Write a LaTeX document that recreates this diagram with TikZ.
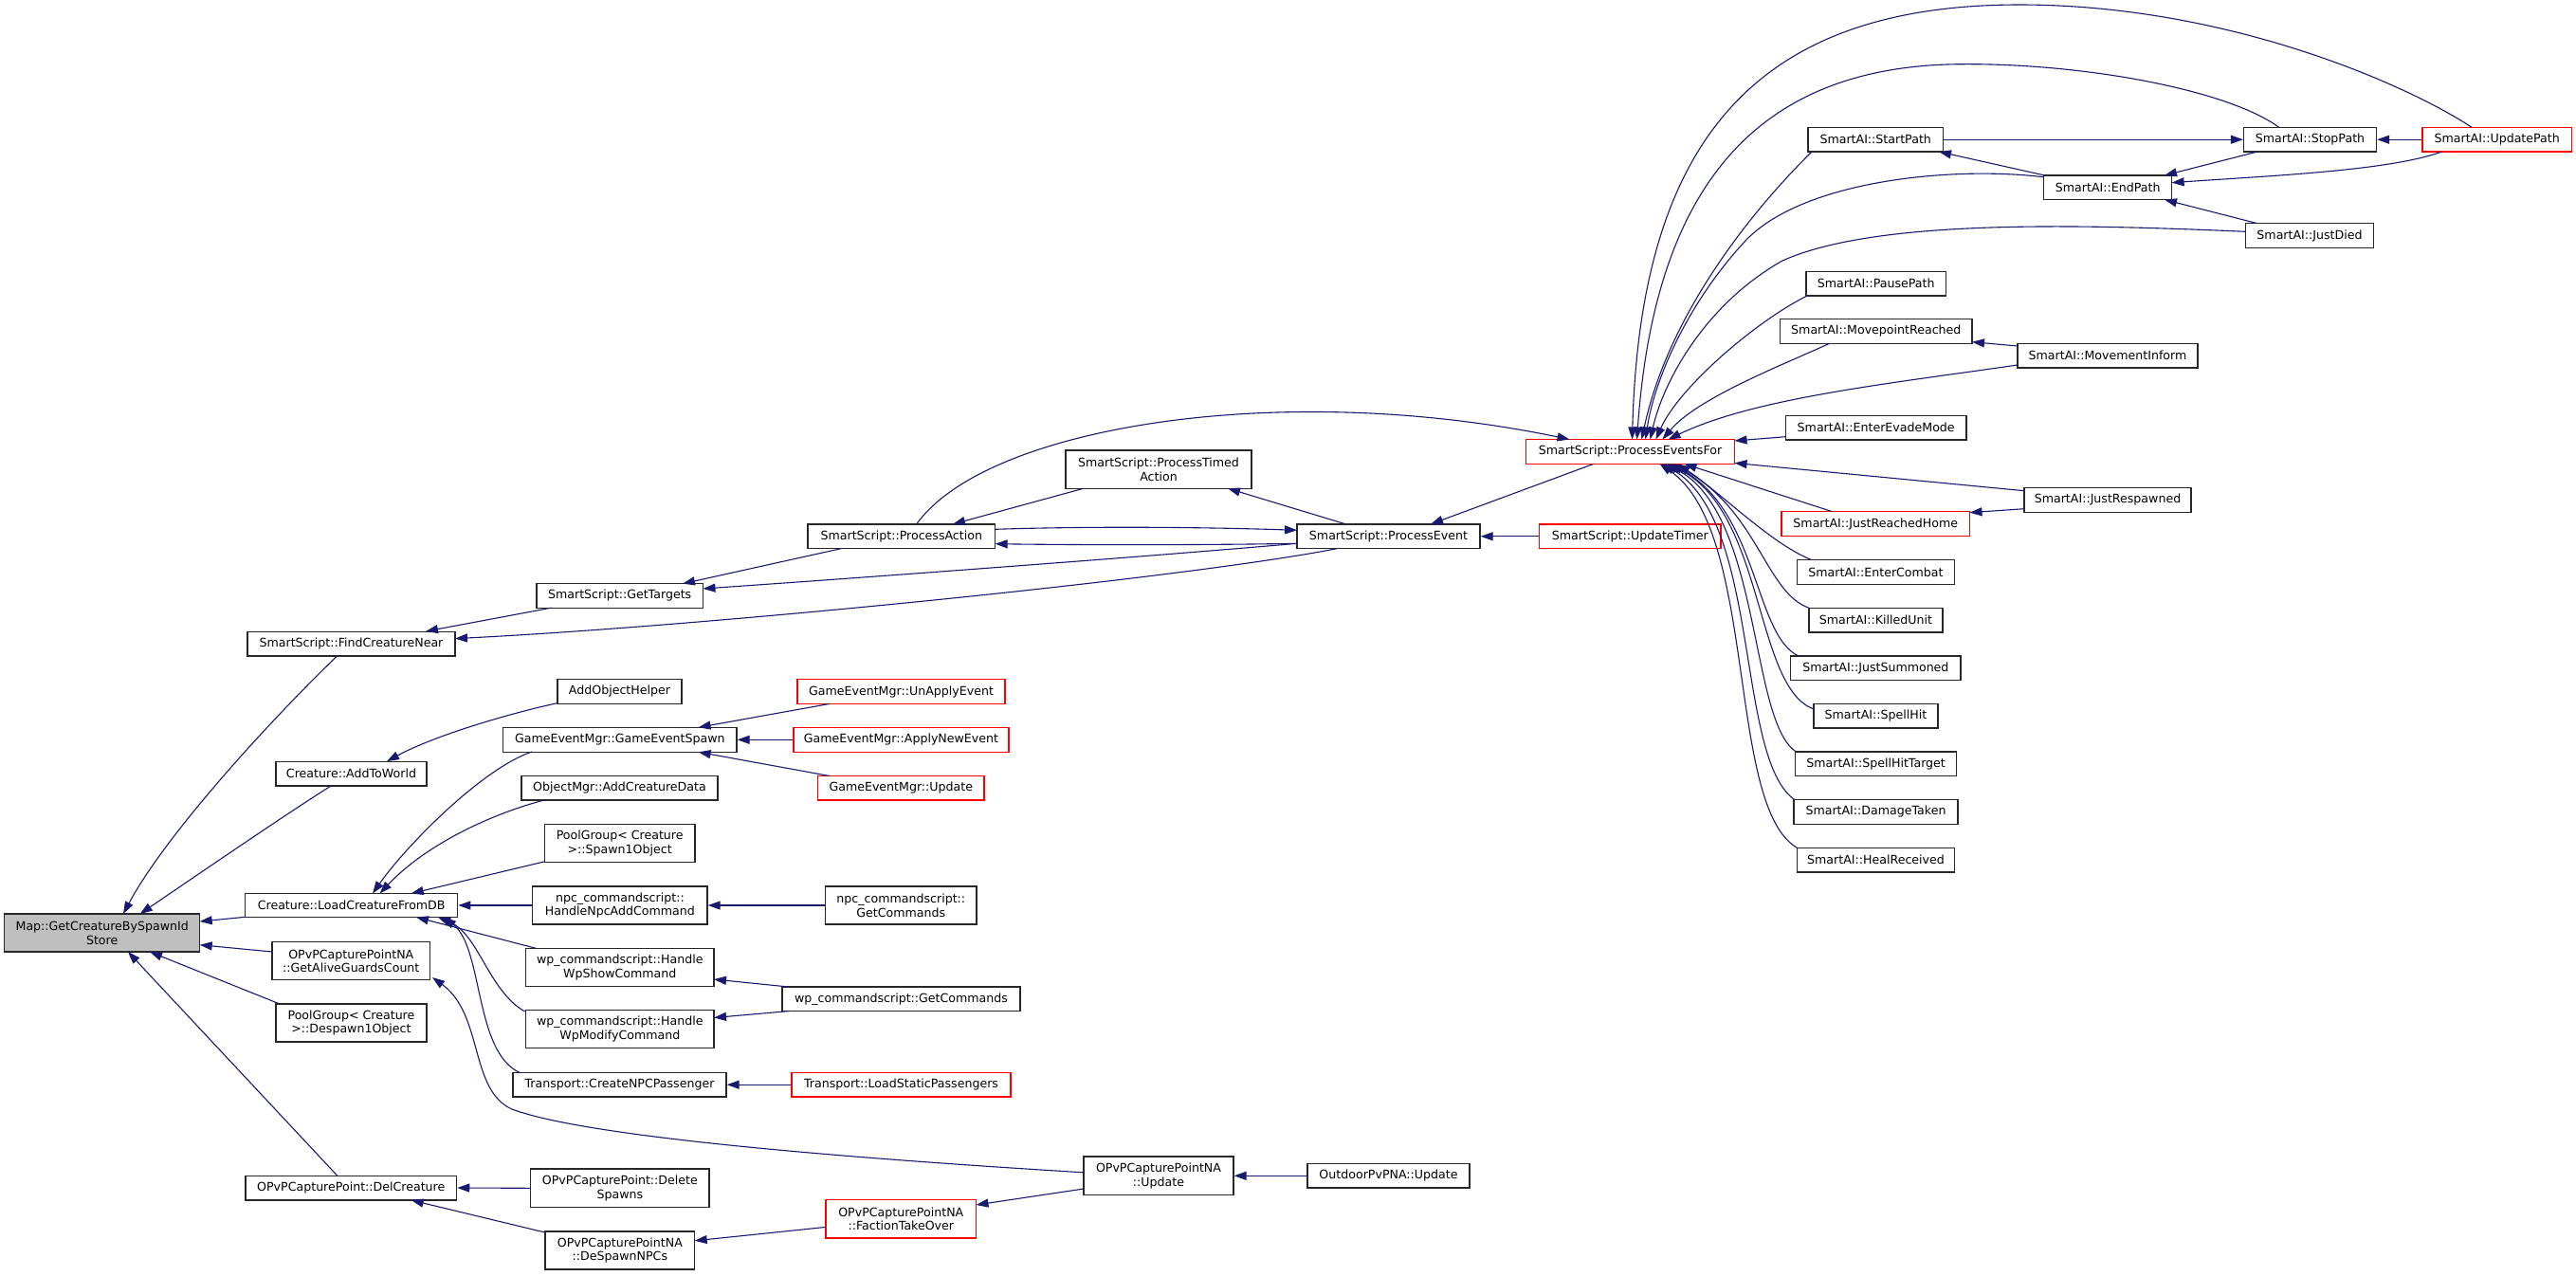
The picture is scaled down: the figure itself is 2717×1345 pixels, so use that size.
\documentclass[tikz,border=0pt]{standalone}
\usepackage{fontspec}
\setmainfont{DejaVu Sans}
\usetikzlibrary{arrows.meta,calc}
\definecolor{edgeblue}{RGB}{25,25,112}
\definecolor{mapgray}{RGB}{191,191,191}
\definecolor{boxline}{RGB}{40,40,40}
\begin{document}
\begin{tikzpicture}[x=1pt,y=-1pt,
  box/.style={draw=boxline,line width=1.3pt,fill=white,rectangle,inner sep=0pt,align=center,
    minimum height=25.7pt,font=\fontsize{12.6}{14.8}\selectfont},
  redbox/.style={box,draw=red},
  edge/.style={draw=edgeblue,line width=1.1pt,-{Triangle[length=13pt,width=9pt]}}]
\useasboundingbox[fill=white] (0,0) rectangle (2717,1345);
% column 0
\node[box,fill=mapgray,minimum width=206pt,minimum height=40pt] (map) at (107.7,984) {Map::GetCreatureBySpawnId\\Store};
% column 1
\node[box,minimum width=219pt] (fcn) at (370.5,679) {SmartScript::FindCreatureNear};
\node[box,minimum width=159pt] (atw) at (370.5,816) {Creature::AddToWorld};
\node[box,minimum width=224pt,minimum height=25pt] (lcfdb) at (370.7,955) {Creature::LoadCreatureFromDB};
\node[box,minimum width=166.6pt,minimum height=40pt] (gagc) at (370.3,1013.8) {OPvPCapturePointNA\\::GetAliveGuardsCount};
\node[box,minimum width=159pt,minimum height=40pt] (d1o) at (370.5,1079) {PoolGroup< Creature\\ >::Despawn1Object};
\node[box,minimum width=222.6pt] (dc) at (370.3,1253) {OPvPCapturePoint::DelCreature};
% column 2
\node[box,minimum width=175.5pt] (gt) at (653.7,628.4) {SmartScript::GetTargets};
\node[box,minimum width=131pt] (aoh) at (653.5,729.5) {AddObjectHelper};
\node[box,minimum width=246.4pt] (ges) at (653.8,780.3) {GameEventMgr::GameEventSpawn};
\node[box,minimum width=207pt] (acd) at (653.5,831.2) {ObjectMgr::AddCreatureData};
\node[box,minimum width=158.5pt,minimum height=40.5pt] (s1o) at (653.7,889.5) {PoolGroup< Creature\\ >::Spawn1Object};
\node[box,minimum width=184.3pt,minimum height=40pt] (hnac) at (653.9,955) {npc\_commandscript::\\HandleNpcAddCommand};
\node[box,minimum width=198.4pt,minimum height=40pt] (wsc) at (653.8,1020.3) {wp\_commandscript::Handle\\WpShowCommand};
\node[box,minimum width=198.4pt,minimum height=40pt] (wmc) at (653.8,1085.5) {wp\_commandscript::Handle\\WpModifyCommand};
\node[box,minimum width=225pt] (cnp) at (653.5,1144.2) {Transport::CreateNPCPassenger};
\node[box,minimum width=188.3pt,minimum height=40.5pt] (ds) at (653.9,1253.3) {OPvPCapturePoint::Delete\\Spawns};
\node[box,minimum width=157.7pt,minimum height=40pt] (dsn) at (653.9,1319) {OPvPCapturePointNA\\::DeSpawnNPCs};
% column 3
\node[box,minimum width=197.6pt] (pa) at (950.8,565.8) {SmartScript::ProcessAction};
\node[redbox,minimum width=219pt] (uae) at (950.5,729.6) {GameEventMgr::UnApplyEvent};
\node[redbox,minimum width=227pt] (ane) at (950.5,780.3) {GameEventMgr::ApplyNewEvent};
\node[redbox,minimum width=175.5pt] (gu) at (950.3,831.2) {GameEventMgr::Update};
\node[box,minimum width=159.5pt,minimum height=40pt] (npcgc) at (950.3,955) {npc\_commandscript::\\GetCommands};
\node[box,minimum width=251pt] (wpgc) at (950.5,1053.8) {wp\_commandscript::GetCommands};
\node[redbox,minimum width=231pt] (lsp) at (950.5,1144.2) {Transport::LoadStaticPassengers};
\node[redbox,minimum width=158.5pt,minimum height=40.4pt] (fto) at (950.3,1285.8) {OPvPCapturePointNA\\::FactionTakeOver};
% column 4
\node[box,minimum width=196pt,minimum height=40.3pt] (pta) at (1222,495) {SmartScript::ProcessTimed\\Action};
\node[box,minimum width=158pt,minimum height=40.7pt] (opnau) at (1222,1240.3) {OPvPCapturePointNA\\::Update};
% column 5
\node[box,minimum width=193pt] (pe) at (1464.5,565.8) {SmartScript::ProcessEvent};
\node[box,minimum width=171pt,minimum height=25.3pt] (outdoor) at (1464.5,1240.3) {OutdoorPvPNA::Update};
% column 6
\node[redbox,minimum width=220pt,minimum height=25.8pt] (pef) at (1719.5,476.4) {SmartScript::ProcessEventsFor};
\node[redbox,minimum width=191.4pt] (ut) at (1719.3,565.8) {SmartScript::UpdateTimer};
% column 7
\node[box,minimum width=142.4pt] (startp) at (1978.2,147.2) {SmartAI::StartPath};
\node[box,minimum width=147.4pt] (pausep) at (1978.7,299.2) {SmartAI::PausePath};
\node[box,minimum width=202.5pt] (mpr) at (1978.8,349.5) {SmartAI::MovepointReached};
\node[box,minimum width=190.6pt] (eem) at (1978.7,451.2) {SmartAI::EnterEvadeMode};
\node[redbox,minimum width=198.5pt] (jrh) at (1978.3,552.5) {SmartAI::JustReachedHome};
\node[box,minimum width=166.3pt] (ec) at (1978.5,603.4) {SmartAI::EnterCombat};
\node[box,minimum width=141pt] (ku) at (1978.5,654) {SmartAI::KilledUnit};
\node[box,minimum width=179.2pt] (js) at (1978.4,704.7) {SmartAI::JustSummoned};
\node[box,minimum width=131pt] (sh) at (1978.5,755.2) {SmartAI::SpellHit};
\node[box,minimum width=170.4pt] (sht) at (1978.6,805.7) {SmartAI::SpellHitTarget};
\node[box,minimum width=173pt] (dt) at (1978.5,856.4) {SmartAI::DamageTaken};
\node[box,minimum width=166.3pt] (hr) at (1978.5,907.2) {SmartAI::HealReceived};
% column 8
\node[box,minimum width=134.8pt] (endp) at (2223.2,197.8) {SmartAI::EndPath};
\node[box,minimum width=190pt] (minf) at (2223,375.2) {SmartAI::MovementInform};
\node[box,minimum width=176pt] (jresp) at (2223,527.4) {SmartAI::JustRespawned};
% column 9
\node[box,minimum width=140pt] (stopp) at (2436.5,147.2) {SmartAI::StopPath};
\node[box,minimum width=134.7pt] (jdied) at (2436,248.5) {SmartAI::JustDied};
% column 10
\node[redbox,minimum width=157.7pt] (updp) at (2633.7,147.2) {SmartAI::UpdatePath};

% ---- edges into Map
\draw[edge] ($(fcn.center)+(-15,13)$) .. controls (285,760) and (175,880) .. ($(map.center)+(22.3,-20)$);
\draw[edge] ($(atw.center)+(-21.5,13)$) .. controls (300,860) and (205,925) .. ($(map.center)+(40,-20)$);
\draw[edge] ($(lcfdb.center)+(-112,12.3)$) -- ($(map.center)+(103,-12)$);
\draw[edge] ($(gagc.center)+(-83.3,-9.8)$) -- ($(map.center)+(103,12.7)$);
\draw[edge] ($(d1o.center)+(-75.5,-20)$) -- ($(map.center)+(50.3,20)$);
\draw[edge] ($(dc.center)+(-14.7,-13)$) -- ($(map.center)+(27.3,20)$);
% ---- SmartScript
\draw[edge] ($(gt.center)+(-72,12.7)$) -- ($(fcn.center)+(78.5,-13)$);
\draw[edge] ($(pe.center)+(-54.5,12.9)$) .. controls (1250,610) and (750,660) .. ($(fcn.center)+(109.5,-5.4)$);
\draw[edge] ($(pa.center)+(-63.8,12.9)$) -- ($(gt.center)+(66.3,-12.7)$);
\draw[edge] ($(pe.center)+(-96.5,7.5)$) .. controls (1200,588) and (900,610) .. ($(gt.center)+(87.8,-7.4)$);
\draw[edge] ($(pa.center)+(98.8,-7.5)$) .. controls (1150,555) and (1270,556) .. ($(pe.center)+(-96.5,-6.5)$);
\draw[edge] ($(pe.center)+(-96.5,7.5)$) .. controls (1270,575) and (1150,575) .. ($(pa.center)+(98.8,7.9)$);
\draw[edge] ($(pta.center)+(-79,20.2)$) -- ($(pa.center)+(54.2,-12.9)$);
\draw[edge] ($(pe.center)+(-45,-12.9)$) -- ($(pta.center)+(73,20.2)$);
\draw[edge] ($(pa.center)+(15.9,-12.9)$) .. controls (1040,450) and (1350,400) .. ($(pef.center)+(-64,-12.9)$);
\draw[edge] ($(pef.center)+(-38.5,12.9)$) -- ($(pe.center)+(44.5,-12.9)$);
\draw[edge] (ut.west) -- (pe.east);
% ---- into ProcessEventsFor from above
\draw[edge] ($(updp.center)+(-26.7,-12.9)$) .. controls (2540,90) and (2350,5) .. (2130,5) .. controls (1850,5) and (1730,150) .. ($(pef.center)+(2,-12.9)$);
\draw[edge] ($(stopp.center)+(-32.8,-12.9)$) .. controls (2350,95) and (2200,67) .. (2071,67.7) .. controls (1850,68) and (1745,200) .. ($(pef.center)+(7,-12.9)$);
\draw[edge] ($(startp.center)+(-67.2,12.8)$) .. controls (1850,220) and (1760,330) .. ($(pef.center)+(12,-12.9)$);
\draw[edge] ($(endp.center)+(-67.4,-11)$) .. controls (2060,175) and (1900,190) .. (1840,255) .. controls (1780,320) and (1745,400) .. ($(pef.center)+(16,-12.9)$);
\draw[edge] ($(jdied.center)+(-67.3,-4.2)$) .. controls (2200,237) and (1980,230) .. (1880,275) .. controls (1800,320) and (1755,400) .. ($(pef.center)+(21,-12.9)$);
\draw[edge] ($(pausep.center)+(-72.7,12.8)$) .. controls (1850,340) and (1770,410) .. ($(pef.center)+(27,-12.9)$);
\draw[edge] ($(mpr.center)+(-49.2,12.8)$) .. controls (1880,385) and (1790,420) .. ($(pef.center)+(34,-12.9)$);
\draw[edge] ($(minf.center)+(-95,9.8)$) .. controls (1990,405) and (1850,420) .. ($(pef.center)+(40,-12.9)$);
\draw[edge] ($(eem.center)+(-95.3,9.5)$) -- ($(pef.center)+(110,-11.4)$);
\draw[edge] ($(jresp.center)+(-88,-9.7)$) -- ($(pef.center)+(110,12)$);
% ---- into ProcessEventsFor from below
\draw[edge] ($(jrh.center)+(-45.6,-12.8)$) -- ($(pef.center)+(57,12.9)$);
\draw[edge] ($(ec.center)+(-67.5,-12.7)$) .. controls (1870,575) and (1815,520) .. ($(pef.center)+(50,12.9)$);
\draw[edge] ($(ku.center)+(-70.5,-12.7)$) .. controls (1862,625) and (1855,540) .. ($(pef.center)+(46,12.9)$);
\draw[edge] ($(js.center)+(-81.4,-12.7)$) .. controls (1850,670) and (1855,540) .. ($(pef.center)+(43,12.9)$);
\draw[edge] ($(sh.center)+(-65.5,-7.2)$) .. controls (1850,725) and (1862,540) .. ($(pef.center)+(40,12.9)$);
\draw[edge] ($(sht.center)+(-84.6,-13)$) .. controls (1845,760) and (1858,540) .. ($(pef.center)+(37,12.9)$);
\draw[edge] ($(dt.center)+(-85.5,-12.7)$) .. controls (1830,800) and (1858,550) .. ($(pef.center)+(34,12.9)$);
\draw[edge] ($(hr.center)+(-83.1,-12.9)$) .. controls (1820,850) and (1855,560) .. ($(pef.center)+(31,12.9)$);
% ---- SmartAI inner
\draw[edge] (startp.east) -- (stopp.west);
\draw[edge] ($(endp.center)+(-66.6,-12.8)$) -- ($(startp.center)+(66.8,12.8)$);
\draw[edge] ($(stopp.center)+(-55.5,12.8)$) -- ($(endp.center)+(59.8,-12.8)$);
\draw[edge] ($(updp.center)+(-58.1,12.8)$) .. controls (2520,180) and (2400,185) .. ($(endp.center)+(67.4,-5.1)$);
\draw[edge] (updp.west) -- (stopp.east);
\draw[edge] ($(jdied.center)+(-55,-12.8)$) -- ($(endp.center)+(59.8,12.8)$);
\draw[edge] ($(minf.center)+(-95,-10.2)$) -- ($(mpr.center)+(101.2,11.2)$);
\draw[edge] ($(jresp.center)+(-88,9.3)$) -- ($(jrh.center)+(99.2,-11.8)$);
% ---- Creature side
\draw[edge] ($(aoh.center)+(-65.5,12.1)$) .. controls (540,752) and (460,775) .. ($(atw.center)+(37.5,-12.9)$);
\draw[edge] ($(ges.center)+(-92.8,12.7)$) .. controls (510,810) and (430,890) .. ($(lcfdb.center)+(22.3,-12.5)$);
\draw[edge] ($(acd.center)+(-79.5,12.8)$) .. controls (520,858) and (450,890) .. ($(lcfdb.center)+(29.8,-12.5)$);
\draw[edge] ($(s1o.center)+(-79.2,19.3)$) -- ($(lcfdb.center)+(63,-12.5)$);
\draw[edge] (hnac.west) -- (lcfdb.east);
\draw[edge] ($(wsc.center)+(-87.8,-19.8)$) -- ($(lcfdb.center)+(68.3,12.5)$);
\draw[edge] ($(wmc.center)+(-100.2,-18.5)$) .. controls (515,1045) and (505,985) .. ($(lcfdb.center)+(91.3,12.5)$);
\draw[edge] ($(cnp.center)+(-105,-12.6)$) .. controls (500,1110) and (510,1000) .. ($(lcfdb.center)+(97.3,12.5)$);
\draw[edge] ($(opnau.center)+(-79,-3.5)$) .. controls (900,1222) and (620,1200) .. (540,1170) .. controls (495,1150) and (510,1070) .. ($(gagc.center)+(85.7,17.2)$);
\draw[edge] ($(uae.center)+(-75.5,12.8)$) -- ($(ges.center)+(82.8,-13)$);
\draw[edge] (ane.west) -- (ges.east);
\draw[edge] ($(gu.center)+(-75.3,-12.7)$) -- ($(ges.center)+(82.8,13)$);
\draw[edge] (npcgc.west) -- (hnac.east);
\draw[edge] ($(wpgc.center)+(-117.9,-12.7)$) -- ($(wsc.center)+(99.2,12.7)$);
\draw[edge] ($(wpgc.center)+(-117.9,12.7)$) -- ($(wmc.center)+(99.2,-12)$);
\draw[edge] (lsp.west) -- (cnp.east);
\draw[edge] (ds.west) -- (dc.east);
\draw[edge] ($(dsn.center)+(-79.9,-19.2)$) -- ($(dc.center)+(63.4,13)$);
\draw[edge] ($(fto.center)+(-79.3,8.6)$) -- ($(dsn.center)+(78.8,-10.2)$);
\draw[edge] ($(opnau.center)+(-79,13.7)$) -- ($(fto.center)+(79.2,-14.8)$);
\draw[edge] (outdoor.west) -- (opnau.east);
\end{tikzpicture}
\end{document}
